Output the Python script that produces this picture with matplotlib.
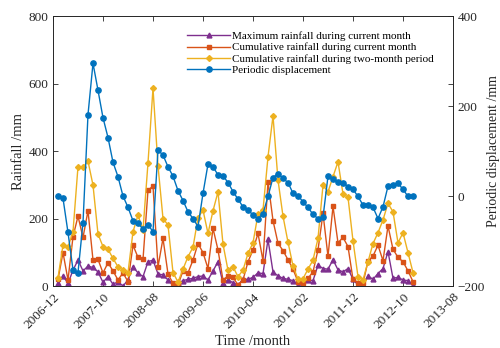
import numpy as np
from matplotlib import pyplot as plt
from matplotlib import transforms

plt.rcParams['font.family'] = ['Liberation Serif', 'DejaVu Serif']

# months counted from 2006-12 (month 1 = 2007-01)
months = np.arange(1, 73)

max_rain = [8, 30, 8, 47, 77, 45, 59, 55, 42, 11, 28, 5,
            13, 0, 18, 57, 39, 28, 72, 77, 36, 33, 18, 3,
            8, 16, 20, 23, 28, 30, 18, 45, 72, 8, 18, 10,
            3, 20, 20, 26, 39, 37, 138, 42, 30, 23, 20, 16,
            3, 3, 18, 16, 62, 52, 50, 78, 48, 42, 52, 20,
            3, 3, 30, 20, 37, 52, 102, 23, 26, 18, 16, 3]

cum_month = [20, 99, 18, 146, 207, 144, 223, 77, 79, 39, 69, 45,
             18, 39, 13, 121, 85, 79, 284, 296, 57, 141, 36, 8,
             3, 45, 39, 77, 126, 99, 52, 171, 107, 18, 30, 26,
             3, 18, 72, 107, 156, 75, 309, 194, 127, 105, 78, 50,
             13, 10, 23, 42, 107, 215, 88, 236, 128, 144, 117, 20,
             10, 8, 74, 89, 121, 75, 178, 109, 85, 72, 45, 13]

cum_two = [25, 121, 115, 161, 354, 352, 370, 299, 154, 117, 109, 82,
           57, 47, 40, 161, 210, 166, 365, 586, 356, 200, 181, 40,
           12, 50, 87, 115, 202, 225, 156, 223, 279, 124, 47, 57,
           28, 47, 97, 128, 213, 225, 383, 504, 314, 207, 130, 60,
           20, 22, 50, 77, 141, 299, 279, 324, 368, 273, 263, 134,
           28, 18, 72, 126, 158, 196, 245, 220, 128, 158, 99, 40]

displacement = [0, -5, -81, -164, -170, -59, 181, 295, 235, 174, 130, 75,
                43, 0, -25, -55, -61, -73, -64, -79, 102, 91, 65, 44,
                12, -10, -35, -50, -68, 6, 71, 65, 47, 45, 30, 10,
                -7, -24, -31, -42, -50, -39, -1, 41, 50, 39, 30, 6,
                1, -13, -25, -41, -50, -47, 44, 37, 32, 30, 21, 15,
                -1, -20, -20, -25, -50, -24, 22, 24, 28, 15, -1, 1]

tick_pos = np.arange(0, 81, 10)
tick_labels = ['2006-12', '2007-10', '2008-08', '2009-06', '2010-04',
               '2011-02', '2011-12', '2012-10', '2013-08']

grey = '#262626'

fig = plt.figure(figsize=(5, 3.48), dpi=100)
ax = fig.add_axes([0.106, 0.178, 0.8, 0.776])
ax2 = ax.twinx()

l1, = ax.plot(months, max_rain, color='#7E2F8E', marker='^', ms=3.5, lw=1,
              label='Maximum rainfall during current month')
l2, = ax.plot(months, cum_month, color='#D95319', marker='s', ms=3, lw=1,
              label='Cumulative rainfall during current month')
l3, = ax.plot(months, cum_two, color='#EDB120', marker='D', ms=3, lw=1,
              label='Cumulative rainfall during two-month period')
l4, = ax2.plot(months, displacement, color='#0072BD', marker='o', ms=3.8, lw=1,
               label='Periodic displacement')

ax.set_xlim(0, 80)
ax.set_ylim(0, 800)
ax2.set_ylim(-200, 400)
ax.set_yticks([0, 200, 400, 600, 800])
ax2.set_yticks([-200, 0, 200, 400])
ax.set_xticks(tick_pos)
ax.set_xticklabels(tick_labels, rotation=45, ha='right', rotation_mode='anchor')
shift = transforms.ScaledTranslation(6 / 100, -2 / 100, fig.dpi_scale_trans)
for lab in ax.get_xticklabels():
    lab.set_transform(lab.get_transform() + shift)

ax.tick_params(direction='in', top=True, right=True, labelsize=9.5,
               colors=grey, length=3.5, width=0.6)
ax2.tick_params(direction='in', labelsize=9.5, colors=grey, length=3.5, width=0.6)
for a in (ax, ax2):
    for s in a.spines.values():
        s.set_color(grey)
        s.set_linewidth(0.6)

ax.set_xlabel('Time /month', fontsize=10.5, color=grey, labelpad=3)
ax.set_ylabel('Rainfall /mm', fontsize=10.5, color=grey, labelpad=2)
ax2.set_ylabel('Periodic displacement /mm', fontsize=10, color=grey, labelpad=1)

ax.legend(handles=[l1, l2, l3, l4], loc='upper left', bbox_to_anchor=(0.325, 0.96),
          frameon=False, fontsize=8, handlelength=3.8, handletextpad=0.2,
          labelspacing=0.15, borderaxespad=0)

fig.savefig('out.png', dpi=100)
